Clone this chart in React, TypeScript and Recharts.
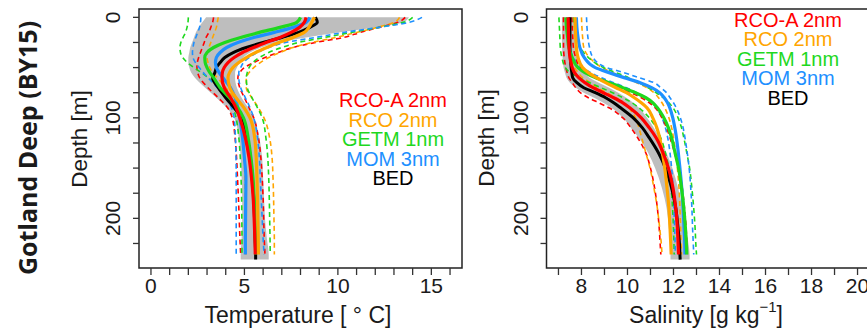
import React from 'react';
import { ComposedChart, Line, Area, XAxis, YAxis, ReferenceArea, Legend } from 'recharts';

// ---------- Temperature panel data ----------
const tempDepths = [0, 5, 10, 15, 20, 25, 30, 35, 40, 45, 50, 55, 60, 70, 80, 90, 100, 120, 140, 160, 180, 200, 220, 236, 241];
const bedT = [8.8, 8.9, 8.5, 7.9, 7.0, 6.0, 5.1, 4.4, 3.95, 3.7, 3.5, 3.42, 3.3, 3.6, 4.0, 4.45, 4.85, 5.15, 5.32, 5.42, 5.5, 5.54, 5.57, 5.6, 5.6];
const bandLoT = [2.95, 2.75, 2.55, 2.4, 2.3, 2.2, 2.1, 2.05, 2.0, 2.0, 2.05, 2.15, 2.35, 2.9, 3.5, 4.05, 4.45, 4.7, 4.8, 4.85, 4.88, 4.88, 4.85, 4.8, 4.8];
const bandHiT = [13.8, 13.5, 12.0, 10.0, 8.3, 6.8, 5.9, 5.3, 4.95, 4.75, 4.6, 4.5, 4.5, 4.6, 4.85, 5.2, 5.5, 5.8, 5.95, 6.0, 6.05, 6.1, 6.2, 6.3, 6.3];
const rcoaT = [8.3, 8.2, 7.95, 7.5, 6.9, 6.15, 5.5, 4.9, 4.45, 4.12, 3.92, 3.82, 3.8, 3.92, 4.26, 4.55, 4.75, 5.05, 5.25, 5.38, 5.47, 5.52, 5.56, 5.58];
const rcoaTLo = [3.35, 3.3, 3.2, 3.1, 2.95, 2.85, 2.75, 2.65, 2.55, 2.48, 2.46, 2.5, 2.6, 3.05, 3.6, 4.1, 4.35, 4.5, 4.58, 4.63, 4.68, 4.72, 4.76, 4.8];
const rcoaTHi = [13.6, 13.2, 12.2, 11.2, 10.3, 8.8, 7.6, 6.8, 6.1, 5.5, 5.0, 4.75, 4.65, 4.75, 5.0, 5.25, 5.5, 5.75, 5.88, 5.95, 6.0, 6.03, 6.06, 6.1];
const rcoT = [8.75, 8.6, 8.45, 8.2, 7.6, 6.85, 6.2, 5.6, 5.1, 4.7, 4.38, 4.2, 4.12, 4.22, 4.55, 4.98, 5.3, 5.55, 5.63, 5.67, 5.7, 5.72, 5.74, 5.75];
const rcoTLo = [3.6, 3.55, 3.5, 3.4, 3.3, 3.2, 3.1, 3.02, 3.0, 3.05, 3.15, 3.3, 3.55, 4.0, 4.4, 4.65, 4.8, 4.95, 5.0, 5.02, 5.04, 5.05, 5.06, 5.07];
const rcoTHi = [13.3, 13.0, 12.1, 11.0, 9.9, 8.6, 7.6, 6.9, 6.3, 5.85, 5.5, 5.25, 5.1, 5.1, 5.4, 5.75, 6.05, 6.35, 6.48, 6.53, 6.56, 6.58, 6.6, 6.6];
const getmT = [8.0, 7.8, 6.9, 5.8, 4.8, 3.95, 3.35, 3.0, 2.88, 2.9, 3.0, 3.15, 3.35, 3.7, 4.2, 4.65, 4.95, 5.2, 5.35, 5.46, 5.52, 5.56, 5.59, 5.6];
const getmTLo = [2.0, 1.98, 1.93, 1.85, 1.72, 1.6, 1.55, 1.58, 1.7, 1.95, 2.3, 2.7, 3.05, 3.7, 4.1, 4.4, 4.55, 4.7, 4.78, 4.82, 4.85, 4.86, 4.87, 4.87];
const getmTHi = [14.0, 13.5, 12.2, 10.7, 9.3, 7.9, 7.0, 6.3, 5.8, 5.45, 5.25, 5.15, 5.1, 5.15, 5.4, 5.7, 5.95, 6.15, 6.25, 6.3, 6.33, 6.35, 6.37, 6.38];
const momT = [8.5, 8.3, 7.6, 6.6, 5.5, 4.65, 4.05, 3.7, 3.5, 3.45, 3.5, 3.65, 3.85, 4.25, 4.5, 4.65, 4.75, 4.9, 5.0, 5.08, 5.07, 5.06, 5.05, 5.05];
const momTLo = [2.67, 2.65, 2.6, 2.5, 2.4, 2.3, 2.25, 2.22, 2.25, 2.38, 2.58, 2.8, 3.05, 3.55, 4.0, 4.3, 4.45, 4.52, 4.55, 4.56, 4.56, 4.56, 4.56, 4.56];
const momTHi = [14.5, 13.8, 12.2, 10.3, 8.8, 7.2, 6.3, 5.7, 5.25, 4.95, 4.8, 4.7, 4.7, 4.8, 5.05, 5.3, 5.5, 5.7, 5.8, 5.85, 5.9, 5.95, 6.0, 6.05];

// ---------- Salinity panel data ----------
const salDepths = [0, 10, 20, 30, 40, 50, 55, 60, 65, 70, 75, 80, 85, 90, 100, 110, 120, 135, 150, 170, 190, 210, 225, 236, 241];
const bedS = [7.5, 7.5, 7.5, 7.5, 7.52, 7.55, 7.58, 7.62, 7.8, 8.1, 8.6, 9.05, 9.4, 9.7, 10.25, 10.65, 10.95, 11.35, 11.65, 11.92, 12.1, 12.2, 12.26, 12.28, 12.29];
const bandLoS = [7.15, 7.15, 7.15, 7.16, 7.18, 7.22, 7.28, 7.35, 7.5, 7.75, 8.1, 8.55, 8.95, 9.3, 9.8, 10.15, 10.5, 10.9, 11.2, 11.5, 11.7, 11.8, 11.85, 11.87, 11.87];
const bandHiS = [7.7, 7.7, 7.72, 7.75, 7.8, 7.95, 8.1, 8.35, 8.75, 9.2, 9.6, 9.95, 10.25, 10.5, 10.85, 11.15, 11.4, 11.7, 11.95, 12.2, 12.4, 12.55, 12.65, 12.7, 12.7];
const rcoaS = [7.42, 7.43, 7.44, 7.46, 7.5, 7.6, 7.7, 7.88, 8.15, 8.5, 8.95, 9.4, 9.8, 10.1, 10.6, 10.95, 11.25, 11.55, 11.78, 11.98, 12.1, 12.17, 12.2, 12.22];
const rcoaSLo = [7.22, 7.22, 7.22, 7.22, 7.25, 7.32, 7.38, 7.45, 7.6, 7.75, 7.95, 8.3, 8.75, 9.2, 9.8, 10.15, 10.45, 10.8, 11.0, 11.18, 11.3, 11.38, 11.42, 11.45];
const rcoaSHi = [7.58, 7.6, 7.62, 7.65, 7.75, 7.95, 8.3, 8.7, 9.2, 9.7, 10.15, 10.6, 10.95, 11.2, 11.5, 11.7, 11.85, 12.05, 12.22, 12.38, 12.48, 12.55, 12.58, 12.6];
const rcoS = [7.72, 7.73, 7.75, 7.78, 7.85, 8.05, 8.3, 8.65, 9.05, 9.5, 9.95, 10.3, 10.6, 10.85, 11.1, 11.28, 11.4, 11.52, 11.62, 11.72, 11.8, 11.85, 11.88, 11.9];
const rcoSLo = [7.4, 7.42, 7.45, 7.5, 7.58, 7.7, 7.85, 8.05, 8.4, 8.7, 9.1, 9.5, 9.8, 10.05, 10.35, 10.5, 10.62, 10.8, 10.98, 11.15, 11.3, 11.4, 11.47, 11.5];
const rcoSHi = [8.0, 8.02, 8.05, 8.1, 8.35, 8.9, 9.35, 9.9, 10.4, 10.85, 11.15, 11.35, 11.5, 11.62, 11.8, 11.92, 12.0, 12.1, 12.17, 12.24, 12.28, 12.31, 12.33, 12.35];
const getmS = [7.32, 7.35, 7.4, 7.45, 7.6, 7.85, 8.15, 8.6, 9.2, 9.8, 10.35, 10.8, 11.1, 11.3, 11.58, 11.78, 11.92, 12.07, 12.22, 12.35, 12.45, 12.52, 12.56, 12.58];
const getmSLo = [7.02, 7.04, 7.06, 7.08, 7.15, 7.3, 7.5, 7.9, 8.35, 8.85, 9.35, 9.8, 10.2, 10.5, 10.95, 11.25, 11.45, 11.65, 11.8, 11.9, 11.96, 12.0, 12.02, 12.03];
const getmSHi = [7.65, 7.7, 7.8, 7.95, 8.3, 8.95, 9.5, 10.05, 10.5, 10.9, 11.25, 11.55, 11.8, 11.98, 12.2, 12.35, 12.45, 12.58, 12.7, 12.8, 12.88, 12.94, 12.97, 13.0];
const momS = [7.78, 7.8, 7.85, 7.93, 8.12, 8.6, 9.2, 9.85, 10.55, 11.05, 11.4, 11.6, 11.74, 11.84, 11.97, 12.06, 12.13, 12.21, 12.28, 12.36, 12.42, 12.46, 12.49, 12.5];
const momSLo = [7.36, 7.4, 7.45, 7.5, 7.65, 8.0, 8.4, 8.85, 9.4, 9.95, 10.4, 10.8, 11.05, 11.25, 11.5, 11.65, 11.75, 11.85, 11.92, 11.98, 12.02, 12.05, 12.07, 12.08];
const momSHi = [8.22, 8.24, 8.28, 8.35, 8.5, 9.1, 9.84, 10.5, 11.15, 11.45, 11.7, 11.85, 12.0, 12.12, 12.3, 12.42, 12.5, 12.6, 12.68, 12.75, 12.8, 12.83, 12.86, 12.88];

// ---------- Axis ticks ----------
const tempTicks = [0, 1, 2, 3, 4, 5, 6, 7, 8, 9, 10, 11, 12, 13, 14, 15, 16];
const salTicks = [7, 8, 9, 10, 11, 12, 13, 14, 15, 16, 17, 18, 19, 20];
const depthTicks = [0, 25, 50, 75, 100, 125, 150, 175, 200, 225];

// ---------- Series ----------
const models = [
  { key: 'rcoa', name: 'RCO-A 2nm', color: '#FF0000' },
  { key: 'rco', name: 'RCO 2nm', color: '#FFA500' },
  { key: 'getm', name: 'GETM 1nm', color: '#1ED81E' },
  { key: 'mom', name: 'MOM 3nm', color: '#1E90FF' },
];
const legendItems = [...models, { key: 'bed', name: 'BED', color: '#000000' }];

const FONT = '"Liberation Sans", Arial, Helvetica, sans-serif';
const INK = '#1a1a1a';

const tempRows = tempDepths.map((depth, i) => ({
  depth,
  band: [bandLoT[i], bandHiT[i]],
  bed: bedT[i],
  rcoa: rcoaT[i], rcoaLo: rcoaTLo[i], rcoaHi: rcoaTHi[i],
  rco: rcoT[i], rcoLo: rcoTLo[i], rcoHi: rcoTHi[i],
  getm: getmT[i], getmLo: getmTLo[i], getmHi: getmTHi[i],
  mom: momT[i], momLo: momTLo[i], momHi: momTHi[i],
}));

const salRows = salDepths.map((depth, i) => ({
  depth,
  band: [bandLoS[i], bandHiS[i]],
  bed: bedS[i],
  rcoa: rcoaS[i], rcoaLo: rcoaSLo[i], rcoaHi: rcoaSHi[i],
  rco: rcoS[i], rcoLo: rcoSLo[i], rcoHi: rcoSHi[i],
  getm: getmS[i], getmLo: getmSLo[i], getmHi: getmSHi[i],
  mom: momS[i], momLo: momSLo[i], momHi: momSHi[i],
}));

const Y_DOMAIN: [number, number] = [-8.3, 249.4];

const makeXTick = (every: number) => (props: any) => {
  const { x, y, payload } = props;
  if (payload.value % every !== 0) return <g />;
  return (
    <text x={x} y={y + 8} textAnchor="middle" dominantBaseline="central" fontSize={21} fill={INK} fontFamily={FONT}>
      {payload.value}
    </text>
  );
};

const YTick = (props: any) => {
  const { x, y, payload } = props;
  if (payload.value % 100 !== 0) return <g />;
  const cx = x - 18;
  return (
    <text x={cx} y={y} transform={`rotate(-90 ${cx} ${y})`} textAnchor="middle" dominantBaseline="central" fontSize={21} fill={INK} fontFamily={FONT}>
      {payload.value}
    </text>
  );
};

const LegendBlock = () => (
  <div style={{ fontFamily: FONT, fontSize: 20, lineHeight: '19.6px', textAlign: 'center' }}>
    {legendItems.map((it) => (
      <div key={it.key} style={{ color: it.color }}>{it.name}</div>
    ))}
  </div>
);

type PanelProps = {
  rows: any[];
  width: number;
  margin: { top: number; right: number; bottom: number; left: number };
  xDomain: [number, number];
  xTicks: number[];
  every: number;
  legendLeft: number;
  legendTop: number;
};

const Panel = ({ rows, width, margin, xDomain, xTicks, every, legendLeft, legendTop }: PanelProps) => (
  <ComposedChart width={width} height={333} data={rows} layout="vertical" margin={margin}>
    <XAxis
      type="number"
      domain={xDomain}
      ticks={xTicks}
      allowDataOverflow
      axisLine={false}
      tickSize={7}
      tickLine={{ stroke: '#333', strokeWidth: 1.3 }}
      tick={makeXTick(every)}
      height={30}
      interval={0}
    />
    <YAxis
      type="number"
      dataKey="depth"
      domain={Y_DOMAIN}
      ticks={depthTicks}
      allowDataOverflow
      axisLine={false}
      tickSize={6}
      tickLine={{ stroke: '#333', strokeWidth: 1.3 }}
      tick={YTick}
      width={40}
      interval={0}
    />
    <Area
      dataKey="band"
      type="monotone"
      fill="#BEBEBE"
      fillOpacity={1}
      stroke="none"
      isAnimationActive={false}
      connectNulls
    />
    {models.map((m) => (
      <Line key={m.key + 'Lo'} dataKey={m.key + 'Lo'} type="monotone" stroke={m.color} strokeWidth={1.6} strokeDasharray="5 3.5" dot={false} isAnimationActive={false} />
    ))}
    {models.map((m) => (
      <Line key={m.key + 'Hi'} dataKey={m.key + 'Hi'} type="monotone" stroke={m.color} strokeWidth={1.6} strokeDasharray="5 3.5" dot={false} isAnimationActive={false} />
    ))}
    <Line dataKey="bed" type="monotone" stroke="#000" strokeWidth={3} dot={false} isAnimationActive={false} />
    {[models[3], models[2], models[1], models[0]].map((m) => (
      <Line key={m.key} dataKey={m.key} type="monotone" stroke={m.color} strokeWidth={3.2} dot={false} isAnimationActive={false} />
    ))}
    <ReferenceArea x1={xDomain[0]} x2={xDomain[1]} y1={Y_DOMAIN[0]} y2={Y_DOMAIN[1]} fill="none" stroke="#222" strokeWidth={1.5} ifOverflow="visible" />
    <Legend
      layout="vertical"
      align="center"
      verticalAlign="middle"
      wrapperStyle={{ left: legendLeft, top: legendTop, width: 170 }}
      content={() => <LegendBlock />}
    />
  </ComposedChart>
);

export default function App() {
  return (
    <div style={{ position: 'absolute', left: 0, top: 0, width: 867, height: 333, overflow: 'hidden', background: '#fff' }}>
      <div style={{ position: 'absolute', left: 0, top: 0 }}>
        <Panel
          rows={tempRows}
          width={480}
          margin={{ top: 9, right: 18, bottom: 35, left: 99 }}
          xDomain={[-0.64, 16.64]}
          xTicks={tempTicks}
          every={5}
          legendLeft={393 - 85}
          legendTop={91}
        />
      </div>
      <div style={{ position: 'absolute', left: 440, top: 0 }}>
        <Panel
          rows={salRows}
          width={440}
          margin={{ top: 9, right: 10.5, bottom: 35, left: 66.5 }}
          xDomain={[6.48, 20.52]}
          xTicks={salTicks}
          every={2}
          legendLeft={788 - 440 - 85}
          legendTop={10.5}
        />
      </div>
      <svg width={867} height={333} style={{ position: 'absolute', left: 0, top: 0, pointerEvents: 'none' }}>
        <text x={27} y={148} transform="rotate(-90 27 148)" textAnchor="middle" dominantBaseline="central" fontSize={25} fontWeight={700} fill={INK} fontFamily='"Open Sans", "Liberation Sans", sans-serif'>
          Gotland Deep (BY15)
        </text>
        <text x={79} y={139} transform="rotate(-90 79 139)" textAnchor="middle" dominantBaseline="central" fontSize={22.5} fill={INK} fontFamily={FONT}>
          Depth [m]
        </text>
        <text x={486} y={138} transform="rotate(-90 486 138)" textAnchor="middle" dominantBaseline="central" fontSize={22.5} fill={INK} fontFamily={FONT}>
          Depth [m]
        </text>
        <text x={298} y={315} textAnchor="middle" dominantBaseline="central" fontSize={23} fill={INK} fontFamily={FONT}>
          Temperature [ ° C]
        </text>
        <text x={706} y={315} textAnchor="middle" dominantBaseline="central" fontSize={23} fill={INK} fontFamily={FONT}>
          Salinity [g kg<tspan dy={-9} fontSize={15}>−1</tspan><tspan dy={9}>]</tspan>
        </text>
      </svg>
    </div>
  );
}
